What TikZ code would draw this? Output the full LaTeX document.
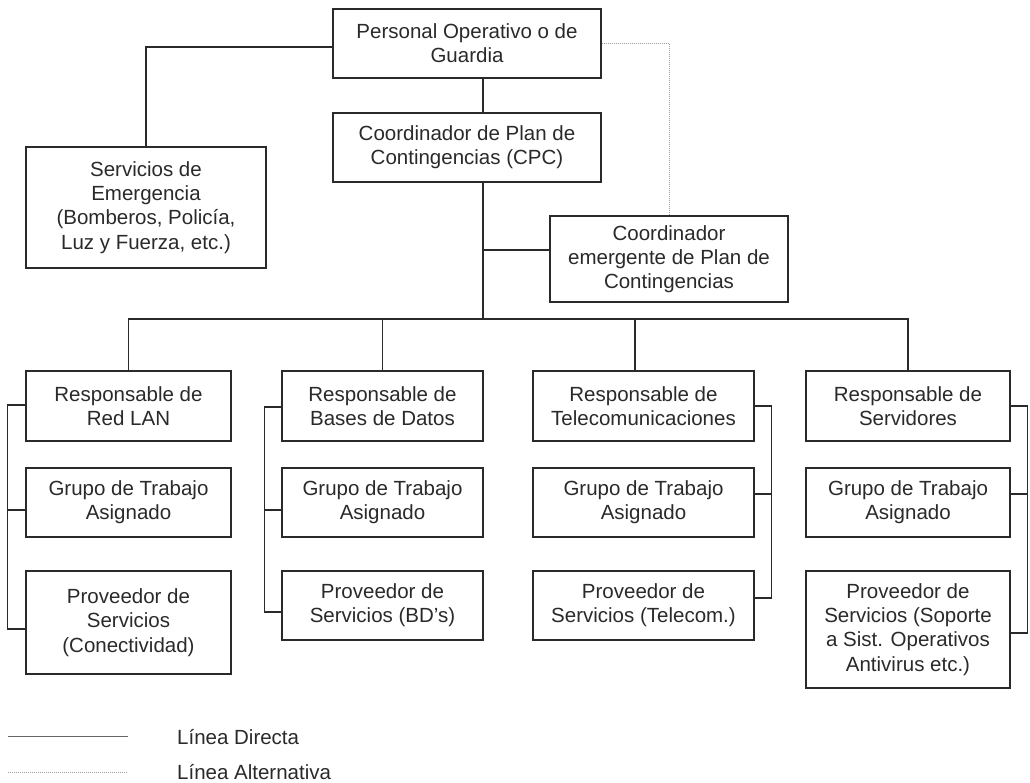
\documentclass[tikz,border=0pt]{standalone}
\usepackage{fontspec}
\setmainfont{Liberation Sans}
\usetikzlibrary{calc}
\definecolor{ink}{HTML}{2A2A2A}
\begin{document}
\begin{tikzpicture}[x=1pt,y=-1pt,
  box/.style={draw=ink, line width=1.1pt, fill=white, align=center, inner sep=0pt,
    text=ink, font=\fontsize{20.5}{24.3}\selectfont},
  direct/.style={draw=ink, line width=1.1pt},
  alt/.style={draw=black!38, line width=1pt, dash pattern=on 1pt off 1pt},
  legtext/.style={anchor=west, inner sep=0pt, text=ink, font=\fontsize{20.5}{24.3}\selectfont}]
\fill[white] (0,0) rectangle (1030,783);
\useasboundingbox (0,0) rectangle (1030,783);

% top part
\node[box, minimum width=268pt, minimum height=69pt] (top) at (467,43.5) {Personal Operativo o de\\Guardia};
\node[box, minimum width=268pt, minimum height=69pt] (cpc) at (467,147.5) {Coordinador de Plan de\\Contingencias (CPC)};
\node[box, minimum width=240pt, minimum height=121pt] (serv) at (146,207.5) {Servicios de\\Emergencia\\(Bomberos, Policía,\\Luz y Fuerza, etc.)};
\node[box, minimum width=238pt, minimum height=86pt] (emer) at (669,259) {Coordinador\\emergente de Plan de\\Contingencias};

% bottom rows
\node[box, minimum width=205pt, minimum height=70pt] (lan1) at (128.5,406) {Responsable de\\Red LAN};
\node[box, minimum width=205pt, minimum height=69pt] (lan2) at (128.5,502.5) {Grupo de Trabajo\\Asignado};
\node[box, minimum width=205pt, minimum height=103pt] (lan3) at (128.5,622.5) {Proveedor de\\Servicios\\(Conectividad)};

\node[box, minimum width=201pt, minimum height=70pt] (bd1) at (382.5,406) {Responsable de\\Bases de Datos};
\node[box, minimum width=201pt, minimum height=69pt] (bd2) at (382.5,502.5) {Grupo de Trabajo\\Asignado};
\node[box, minimum width=201pt, minimum height=69pt] (bd3) at (382.5,605.5) {Proveedor de\\Servicios (BD's)};

\node[box, minimum width=221pt, minimum height=70pt] (tel1) at (643.5,406) {Responsable de\\Telecomunicaciones};
\node[box, minimum width=221pt, minimum height=69pt] (tel2) at (643.5,502.5) {Grupo de Trabajo\\Asignado};
\node[box, minimum width=221pt, minimum height=69pt] (tel3) at (643.5,605.5) {Proveedor de\\Servicios (Telecom.)};

\node[box, minimum width=204pt, minimum height=70pt] (srv1) at (908,406) {Responsable de\\Servidores};
\node[box, minimum width=204pt, minimum height=69pt] (srv2) at (908,502.5) {Grupo de Trabajo\\Asignado};
\node[box, minimum width=204pt, minimum height=117pt] (srv3) at (908,629.5) {Proveedor de\\Servicios (Soporte\\a Sist. Operativos\\Antivirus etc.)};

% connectors
\coordinate (bus) at (483,319);
\draw[direct] ([yshift=-3.5pt]top.west) -| (serv.north);
\draw[direct] ([xshift=16pt]top.south) -- ([xshift=16pt]cpc.north);
\draw[direct] ([xshift=16pt]cpc.south) -- ([xshift=16pt]cpc.south |- bus);
\draw[direct] ([yshift=9pt]emer.west) -- ([yshift=9pt]emer.west -| bus);
\draw[direct] (lan1.north) |- (bus) -| (srv1.north);
\draw[direct] (bd1.north) -- (bd1.north |- bus);
\draw[direct] ([xshift=-8.5pt]tel1.north) -- ([xshift=-8.5pt]tel1.north |- bus);
\draw[alt] (top.east) -| (emer.north);

% brackets
\draw[direct] ([yshift=1pt]lan1.west) -- ++(-18,0) |- ([yshift=-6.5pt]lan3.west);
\draw[direct] ([yshift=-7.5pt]lan2.west) -- ++(-18,0);
\draw[direct] ([yshift=-1pt]bd1.west) -- ++(-17,0) |- ([yshift=-6.5pt]bd3.west);
\draw[direct] ([yshift=-7.5pt]bd2.west) -- ++(-17,0);
\draw[direct] (tel1.east) -- ++(17,0) |- ([yshift=7.5pt]tel3.east);
\draw[direct] ([yshift=8.5pt]tel2.east) -- ++(17,0);
\draw[direct] (srv1.east) -- ++(17,0) |- ([yshift=-3.5pt]srv3.east);
\draw[direct] ([yshift=8.5pt]srv2.east) -- ++(17,0);

% legend
\coordinate (la) at (8,736);
\coordinate (lb) at (128,736);
\coordinate (lc) at (8,772);
\coordinate (ld) at (128,772);
\draw[direct, line width=0.9pt, draw=black!60] (la) -- (lb);
\draw[alt] (lc) -- (ld);
\node[legtext] (l1) at (177,737) {Línea Directa};
\node[legtext] (l2) at (177,772) {Línea Alternativa};
\end{tikzpicture}
\end{document}
